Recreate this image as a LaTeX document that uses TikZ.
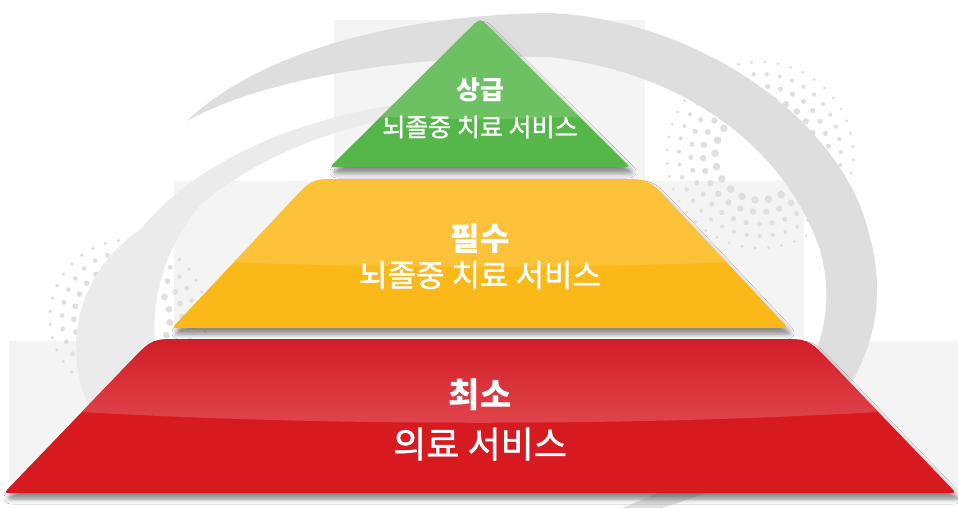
\documentclass[tikz,border=0pt]{standalone}
\usepackage{fontspec}
\newfontfamily\kr{Noto Sans CJK KR}
\newfontfamily\krm[FakeBold=1.3]{Noto Sans CJK KR}
\usetikzlibrary{shadows.blur}
\definecolor{bandA}{HTML}{DEDEDE}
\definecolor{bandB}{HTML}{EBEBEB}
\definecolor{dotc}{HTML}{DFDFDF}
\definecolor{backc}{HTML}{F4F4F4}
\definecolor{greenc}{HTML}{55B74A}
\definecolor{yellowc}{HTML}{FBB919}
\definecolor{redc}{HTML}{D71920}
\definecolor{redtop}{HTML}{D11C24}
\definecolor{redgloss}{HTML}{E0464D}
\tikzset{
  greenpath/.style={insert path={(338,167) .. controls (330,167) .. (335.7,161.4) -- (470.1,27.9) .. controls (480,18) .. (489.9,27.9) -- (624.3,161.4) .. controls (630,167) .. (622,167) -- cycle}},
  yellowpath/.style={insert path={(180,328) .. controls (172,328) .. (177.5,322.2) -- (292.8,199.4) .. controls (312,179) .. (340,179) -- (620,179) .. controls (648,179) .. (667.2,199.4) -- (782.5,322.2) .. controls (788,328) .. (780,328) -- cycle}},
  redpath/.style={insert path={(12,493) .. controls (4,493) .. (9.5,487.2) -- (131.2,360.6) .. controls (152,339) .. (182,339) -- (778,339) .. controls (808,339) .. (828.8,360.6) -- (950.5,487.2) .. controls (956,493) .. (948,493) -- cycle}},
  tiershadow/.style={blur shadow={shadow xshift=3pt, shadow yshift=-6pt, shadow opacity=45, shadow blur radius=5pt}},
  title/.style={text=white, font=\kr\bfseries\fontsize{#1}{#1}\selectfont, inner sep=0pt},
  subtitle/.style={text=white, font=\krm\fontsize{#1}{#1}\selectfont, inner sep=0pt},
}
\begin{document}
\begin{tikzpicture}[x=1pt,y=-1pt]
\useasboundingbox (0,0) rectangle (958,507);
\fill[white] (0,0) rectangle (958,507);
% backdrop panels
\fill[backc] (334,20) rectangle (645,185);
\fill[backc] (174,181) rectangle (804,337);
\fill[backc] (9,341) rectangle (958,500);
% halftone dots (right cluster)
\foreach \r/\s in {45/3.8,57/3.2,69/2.6,81/2.1,93/1.6} {
  \pgfmathtruncatemacro\n{2*3.1416*\r/13}
  \pgfmathsetmacro\st{360/\n}
  \foreach \i in {1,...,\n} {
    \pgfmathsetmacro\ang{\i*\st+\r}
    \fill[dotc] ({760+\r*cos(\ang)},{155+\r*sin(\ang)}) circle (\s);
  }
}
% halftone dots (left cluster)
\foreach \r/\s in {42/3.4,54/2.9,66/2.4,78/1.9} {
  \pgfmathtruncatemacro\n{2*3.1416*\r/13}
  \pgfmathsetmacro\st{360/\n}
  \foreach \i in {1,...,\n} {
    \pgfmathsetmacro\ang{\i*\st+\r}
    \fill[dotc] ({128+\r*cos(\ang)},{318+\r*sin(\ang)}) circle (\s);
  }
}
% swoosh bands
\fill[bandB] (575,98) .. controls (420,85) and (230,120) .. (140,230)
  .. controls (65,280) and (55,380) .. (115,445) -- (180,445)
  .. controls (145,360) and (140,280) .. (200,205)
  .. controls (300,120) and (450,102) .. (575,98) -- cycle;
\fill[bandA] (187,121) .. controls (250,60) and (380,15) .. (550,13)
  .. controls (700,20) and (840,120) .. (868,230)
  .. controls (898,330) and (860,450) .. (655,510) -- (617,510)
  .. controls (800,440) and (845,340) .. (820,250)
  .. controls (790,160) and (700,75) .. (550,57)
  .. controls (400,55) and (260,80) .. (187,121) -- cycle;
% red tier
\fill[redc, tiershadow, redpath];
\begin{scope}
  \clip[redpath];
  \shade[top color=redtop, bottom color=redgloss] (0,335) -- (958,335) -- (958,407) .. controls (660,428) and (300,428) .. (0,407) -- cycle;
\end{scope}
% yellow tier
\fill[yellowc, tiershadow, yellowpath];
\begin{scope}
  \clip[yellowpath];
  \fill[white, opacity=0.14] (150,170) -- (810,170) -- (810,257) .. controls (650,270) and (310,270) .. (150,257) -- cycle;
\end{scope}
% green tier
\fill[greenc, tiershadow, greenpath];
\begin{scope}
  \clip[greenpath];
  \fill[white, opacity=0.14] (300,0) -- (660,0) -- (660,110) .. controls (560,122) and (400,122) .. (300,110) -- cycle;
\end{scope}
% labels
\node[title=26] (t1) at (480,90) {상급};
\node[subtitle=25] (s1) at (480,127) {뇌졸중 치료 서비스};
\node[title=32] (t2) at (480,239) {필수};
\node[subtitle=31] (s2) at (480,275) {뇌졸중 치료 서비스};
\node[title=34] (t3) at (480,395) {최소};
\node[subtitle=36] (s3) at (480,444) {의료 서비스};
\end{tikzpicture}
\end{document}
